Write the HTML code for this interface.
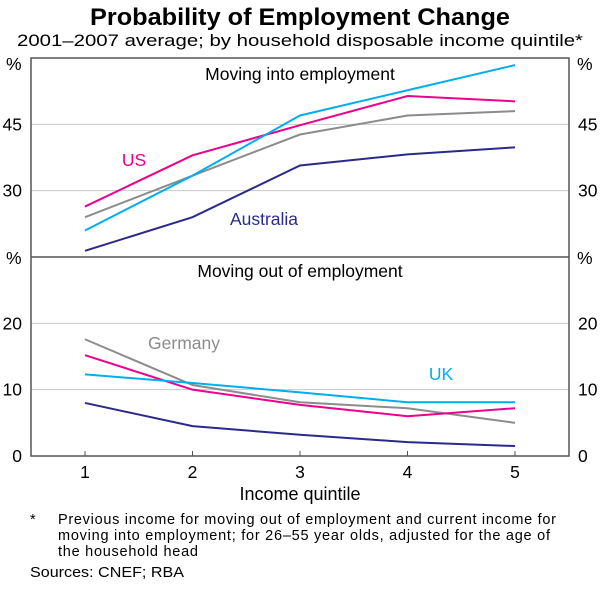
<!DOCTYPE html>
<html><head><meta charset="utf-8"><style>
body{margin:0;background:#fff;}
svg text{font-family:"Liberation Sans",Arial,sans-serif;}
</style></head><body>
<svg width="600" height="584" viewBox="0 0 600 584">
<text x="300" y="25" text-anchor="middle" font-size="24" font-weight="bold" textLength="420" lengthAdjust="spacingAndGlyphs">Probability of Employment Change</text>
<text x="300" y="46" text-anchor="middle" font-size="16.5" textLength="566" lengthAdjust="spacingAndGlyphs">2001–2007 average; by household disposable income quintile*</text>
<g id="grid"></g>
<g id="lines"></g>
<g id="frame"></g>
<g id="labels" font-size="17.5"></g>
<text x="300" y="500" text-anchor="middle" font-size="18">Income quintile</text>
<text x="30" y="524" font-size="14.5">*</text>
<text font-size="14.5" lengthAdjust="spacingAndGlyphs"><tspan x="58" y="524" textLength="498">Previous income for moving out of employment and current income for</tspan><tspan x="58" y="540" textLength="492">moving into employment; for 26–55 year olds, adjusted for the age of</tspan><tspan x="58" y="556" textLength="140">the household head</tspan></text>
<text x="30" y="577" font-size="14.5" textLength="154" lengthAdjust="spacingAndGlyphs">Sources: CNEF; RBA</text>
</svg>
<script>
const quintiles=[1,2,3,4,5];
const topTicks=[30,45];
const bottomTicks=[0,10,20];
const intoUS=[26.4,38,44.8,51.4,50.2];
const intoUK=[21,33.4,47,52.7,58.4];
const intoGermany=[24,33.4,42.7,47,48];
const intoAustralia=[16.4,24,35.7,38.2,39.8];
const outUS=[15.2,10,7.7,6,7.2];
const outUK=[12.3,11,9.6,8.1,8.1];
const outGermany=[17.6,10.7,8.1,7.2,5];
const outAustralia=[8,4.5,3.2,2.1,1.5];
const NS='http://www.w3.org/2000/svg';
const L=31,R=569,T=58,M=257,B=456;
const xs=q=>85+(q-1)*107.5;
const yTop=v=>M-(v-15)*(M-T)/45;
const yBot=v=>B-v*(B-M)/30;
function mk(tag,attrs,parent){const e=document.createElementNS(NS,tag);for(const k in attrs)e.setAttribute(k,attrs[k]);document.getElementById(parent).appendChild(e);return e;}
topTicks.forEach(t=>{const y=yTop(t);
 const g=mk('line',{x1:L,x2:R,y1:y,y2:y,stroke:'#c8c8c8','stroke-width':1},'grid');
 
 
 [[22,'end'],[578,'start']].forEach(([x,a])=>{const tx=mk('text',{x:x,y:y+6,'text-anchor':a},'labels');tx.textContent=t;
 
 });
});
bottomTicks.forEach(t=>{const y=yBot(t);
 if(t>0){const g=mk('line',{x1:L,x2:R,y1:y,y2:y,stroke:'#c8c8c8','stroke-width':1},'grid');
 
 }
 [[22,'end'],[578,'start']].forEach(([x,a])=>{const tx=mk('text',{x:x,y:y+6,'text-anchor':a},'labels');tx.textContent=t;
 
 });
});
quintiles.forEach(q=>{const tx=mk('text',{x:xs(q),y:478,'text-anchor':'middle'},'labels');tx.textContent=q;
 
 
 const tk=mk('line',{x1:xs(q),x2:xs(q),y1:B,y2:B-5,stroke:'#555'},'frame');
 
 });
[[6,70],[6,264],[577,70],[577,264]].forEach(([x,y])=>{const tx=mk('text',{x:x,y:y},'labels');tx.textContent='%';
 
 });
const series=[
 ['into-germany',intoGermany,yTop,'#8c8c8c'],['into-australia',intoAustralia,yTop,'#2a2a8c'],
 ['into-us',intoUS,yTop,'#ec008c'],['into-uk',intoUK,yTop,'#00aeef'],
 ['out-germany',outGermany,yBot,'#8c8c8c'],['out-australia',outAustralia,yBot,'#2a2a8c'],
 ['out-us',outUS,yBot,'#ec008c'],['out-uk',outUK,yBot,'#00aeef']];
series.forEach(([n,d,f,c])=>{const p=mk('polyline',{points:d.map((v,i)=>xs(quintiles[i])+','+f(v)).join(' '),fill:'none',stroke:c,'stroke-width':2},'lines');
 
 });
const fr=mk('rect',{x:L,y:T,width:R-L,height:B-T,fill:'none',stroke:'#555','stroke-width':1.5},'frame');


const md=mk('line',{x1:L,x2:R,y1:M,y2:M,stroke:'#555','stroke-width':1.5},'frame');


[['Moving into employment',300,80,'#000','panel-title-top'],['Moving out of employment',300,277,'#000','panel-title-bottom'],
 ['US',134,166,'#ec008c','label-us'],['Australia',264,225,'#2a2a8c','label-australia'],
 ['Germany',184,349,'#8c8c8c','label-germany'],['UK',441,380,'#00aeef','label-uk']].forEach(([t,x,y,c,n])=>{
 const tx=mk('text',{x:x,y:y,'text-anchor':'middle',fill:c},'labels');tx.textContent=t;
 
 });
</script>
</body></html>
